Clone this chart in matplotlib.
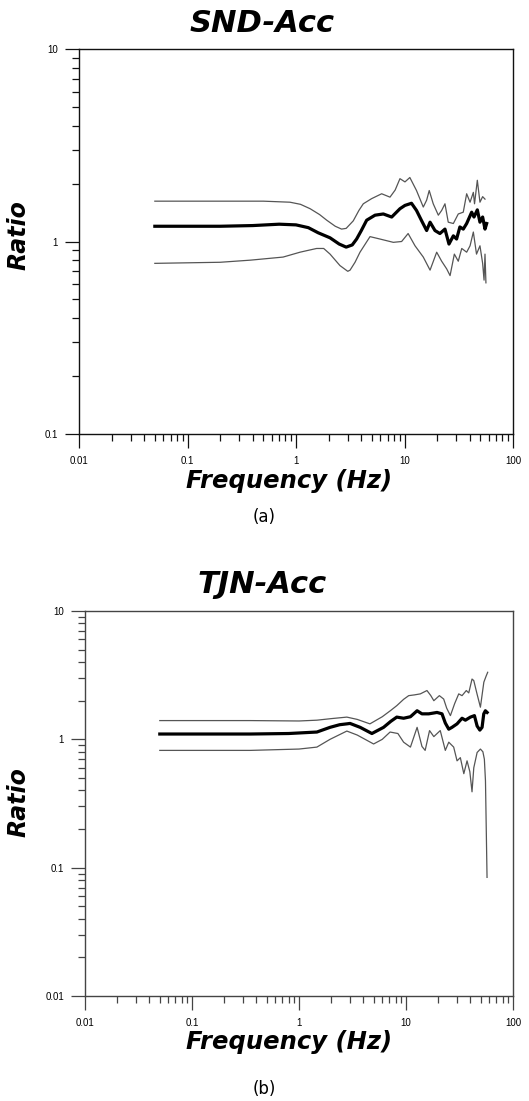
import matplotlib
matplotlib.use("Agg")
import matplotlib.pyplot as plt
from matplotlib.ticker import LogLocator, NullFormatter, FuncFormatter

# ---------------- data ----------------
# SND-Acc
snd_mean_f = [0.05, 0.1, 0.2, 0.4, 0.7, 1.0, 1.3, 1.6, 2.06, 2.5, 2.9, 3.3, 3.62, 4.0, 4.48, 5.35, 6.38,
              7.62, 9.08, 10.1, 11.6, 12.9, 14.4, 16.0, 17.2, 19.1, 21.2, 23.6, 25.7, 28.2, 30.2, 32.4,
              34.8, 37.4, 41.6, 43.7, 46.9, 49.6, 52.5, 55.2, 57.2]
snd_mean_v = [1.20, 1.20, 1.20, 1.21, 1.23, 1.22, 1.18, 1.11, 1.045, 0.97, 0.935, 0.96, 1.03, 1.14, 1.29,
              1.37, 1.39, 1.34, 1.48, 1.54, 1.58, 1.45, 1.28, 1.14, 1.26, 1.14, 1.10, 1.16, 0.97, 1.07,
              1.03, 1.19, 1.16, 1.24, 1.42, 1.34, 1.46, 1.26, 1.34, 1.16, 1.24]

snd_up_f = [0.05, 0.2, 0.5, 0.88, 1.1, 1.35, 1.65, 1.92, 2.3, 2.63, 2.9, 3.37, 3.8, 4.17, 4.98, 6.16,
            7.35, 8.2, 9.08, 10.1, 11.2, 12.9, 14.9, 16.0, 16.9, 18.4, 20.5, 22.0, 23.6, 25.3, 28.2,
            31.3, 34.8, 37.4, 40.2, 43.1, 44.2, 46.9, 49.6, 52.5, 55.2]
snd_up_v = [1.62, 1.62, 1.62, 1.60, 1.56, 1.48, 1.38, 1.29, 1.20, 1.16, 1.17, 1.28, 1.45, 1.57, 1.67,
            1.77, 1.70, 1.85, 2.12, 2.04, 2.15, 1.84, 1.51, 1.64, 1.84, 1.57, 1.37, 1.45, 1.57, 1.26,
            1.24, 1.39, 1.42, 1.77, 1.60, 1.80, 1.57, 2.08, 1.60, 1.71, 1.66]

snd_lo_f = [0.05, 0.2, 0.38, 0.76, 1.09, 1.3, 1.55, 1.8, 2.06, 2.54, 3.0, 3.15, 3.5, 3.89, 4.81, 5.94,
            7.89, 9.41, 10.8, 12.5, 14.9, 17.2, 19.8, 22.0, 24.5, 26.3, 28.8, 31.3, 33.7, 37.4, 40.2,
            43.1, 46.1, 49.6, 52.5, 54.1, 55.2, 56.3]
snd_lo_v = [0.77, 0.78, 0.80, 0.83, 0.88, 0.90, 0.92, 0.92, 0.86, 0.75, 0.70, 0.71, 0.78, 0.88, 1.06,
            1.03, 0.99, 1.00, 1.10, 0.95, 0.83, 0.71, 0.88, 0.79, 0.72, 0.665, 0.86, 0.79, 0.92, 0.88,
            0.95, 1.12, 0.86, 0.95, 0.77, 0.63, 0.86, 0.61]

# TJN-Acc
tjn_mean_f = [0.05, 0.2, 0.35, 0.8, 1.47, 1.95, 2.4, 2.8, 3.0, 3.73, 4.8, 6.17, 7.2, 8.2, 9.5, 11.0,
              12.7, 14.1, 16.3, 19.5, 21.7, 23.3, 25.1, 26.9, 30.0, 33.4, 35.9, 40.0, 43.6, 46.2, 49.0,
              51.4, 53.3, 55.2, 57.3]
tjn_mean_v = [1.10, 1.10, 1.10, 1.11, 1.14, 1.24, 1.30, 1.32, 1.33, 1.24, 1.11, 1.24, 1.38, 1.49, 1.46,
              1.50, 1.67, 1.58, 1.58, 1.62, 1.58, 1.34, 1.20, 1.24, 1.32, 1.46, 1.41, 1.49, 1.53, 1.27,
              1.18, 1.24, 1.58, 1.67, 1.62]

tjn_up_f = [0.05, 0.35, 1.0, 1.47, 2.0, 2.8, 3.5, 4.6, 6.0, 7.2, 8.2, 9.5, 10.6, 12.0, 13.6, 15.7, 17.0,
            18.2, 20.5, 22.5, 24.0, 26.0, 28.5, 31.1, 33.4, 36.6, 38.6, 41.4, 43.0, 46.1, 49.6, 53.4,
            56.0, 58.0]
tjn_up_v = [1.40, 1.40, 1.39, 1.41, 1.45, 1.49, 1.43, 1.32, 1.50, 1.68, 1.83, 2.05, 2.19, 2.22, 2.26,
            2.40, 2.20, 2.00, 2.19, 2.06, 1.75, 1.53, 1.90, 2.26, 2.19, 2.40, 2.30, 2.95, 2.87, 2.26,
            1.78, 2.79, 3.10, 3.33]

tjn_lo_f = [0.05, 0.35, 1.0, 1.47, 1.95, 2.8, 3.5, 4.98, 6.0, 7.1, 8.4, 9.5, 11.0, 12.7, 14.1, 15.1,
            16.6, 18.2, 20.9, 23.3, 25.1, 27.9, 30.0, 32.2, 34.7, 37.2, 39.5, 41.4, 43.0, 46.2, 49.6,
            52.3, 54.0, 55.3, 57.2]
tjn_lo_v = [0.82, 0.82, 0.84, 0.87, 1.00, 1.16, 1.08, 0.92, 1.00, 1.14, 1.11, 0.95, 0.87, 1.24, 0.88,
            0.82, 1.17, 1.05, 1.17, 0.82, 0.95, 0.87, 0.68, 0.72, 0.54, 0.68, 0.56, 0.39, 0.60, 0.79,
            0.84, 0.80, 0.70, 0.475, 0.084]

panels = [
    dict(title="SND-Acc", tag="(a)", ylim=(0.1, 10),
         mean=(snd_mean_f, snd_mean_v), up=(snd_up_f, snd_up_v), lo=(snd_lo_f, snd_lo_v)),
    dict(title="TJN-Acc", tag="(b)", ylim=(0.01, 10),
         mean=(tjn_mean_f, tjn_mean_v), up=(tjn_up_f, tjn_up_v), lo=(tjn_lo_f, tjn_lo_v)),
]

# ---------------- layout ----------------
W, H = 529, 1101
fig = plt.figure(figsize=(W / 100, H / 100), dpi=100)

# axes boxes in pixels: (left, top, right, bottom)
boxes = [(79, 49, 513, 434), (85, 611, 513, 996)]
spine_cols = ["#111111", "#444444"]

lab_font = dict(family="DejaVu Sans", weight="bold", style="italic")
tick_font = "Liberation Sans"

fmt = FuncFormatter(lambda v, p: f"{v:g}")

for i, (pan, box, sc) in enumerate(zip(panels, boxes, spine_cols)):
    l, t, r, b = box
    ax = fig.add_axes([l / W, 1 - b / H, (r - l) / W, (b - t) / H])
    ax.set_xscale("log")
    ax.set_yscale("log")
    ax.set_xlim(0.01, 100)
    ax.set_ylim(*pan["ylim"])

    ax.plot(*pan["up"], color="#555555", lw=0.9, zorder=2)
    ax.plot(*pan["lo"], color="#555555", lw=0.9, zorder=2)
    ax.plot(*pan["mean"], color="black", lw=2.3, zorder=3)

    for s in ax.spines.values():
        s.set_color(sc)
        s.set_linewidth(1.0)

    ax.xaxis.set_major_locator(LogLocator(base=10, numticks=10))
    ax.xaxis.set_minor_locator(LogLocator(base=10, subs=range(2, 10), numticks=100))
    ax.yaxis.set_major_locator(LogLocator(base=10, numticks=10))
    ax.yaxis.set_minor_locator(LogLocator(base=10, subs=range(2, 10), numticks=100))
    ax.xaxis.set_major_formatter(fmt)
    ax.yaxis.set_major_formatter(fmt)
    ax.xaxis.set_minor_formatter(NullFormatter())
    ax.yaxis.set_minor_formatter(NullFormatter())

    ax.tick_params(which="both", direction="out", top=False, right=False, color=sc, width=0.9)
    ax.tick_params(which="major", length=10, labelsize=7)
    ax.tick_params(which="minor", length=5)
    ax.tick_params(axis="x", which="major", pad=6)
    ax.tick_params(axis="y", which="major", pad=5)
    for lab in ax.get_xticklabels() + ax.get_yticklabels():
        lab.set_fontfamily(tick_font)

    pw, ph = (r - l), (b - t)
    # title
    ax.text((262 - l) / pw, (b - (24 if i == 0 else 584)) / ph, pan["title"],
            transform=ax.transAxes, ha="center", va="center", fontsize=22, **lab_font)
    # axis labels
    ax.set_xlabel("Frequency (Hz)", fontsize=17.5, **lab_font)
    ax.xaxis.label.set_va("center")
    xl_y = 481 if i == 0 else 1042
    ax.xaxis.set_label_coords((289 - l) / pw, (b - xl_y) / ph)
    ax.set_ylabel("Ratio", fontsize=17, **lab_font)
    ax.yaxis.label.set_va("center")
    yl_y = 235 if i == 0 else 802
    ax.yaxis.set_label_coords((19 - l) / pw, (b - yl_y) / ph)

    # sub-figure tag
    tag_y = 517 if i == 0 else 1089
    fig.text(264 / W, 1 - tag_y / H, pan["tag"], ha="center", va="center",
             fontsize=12, family="DejaVu Sans")

fig.savefig("out.png", dpi=100)
